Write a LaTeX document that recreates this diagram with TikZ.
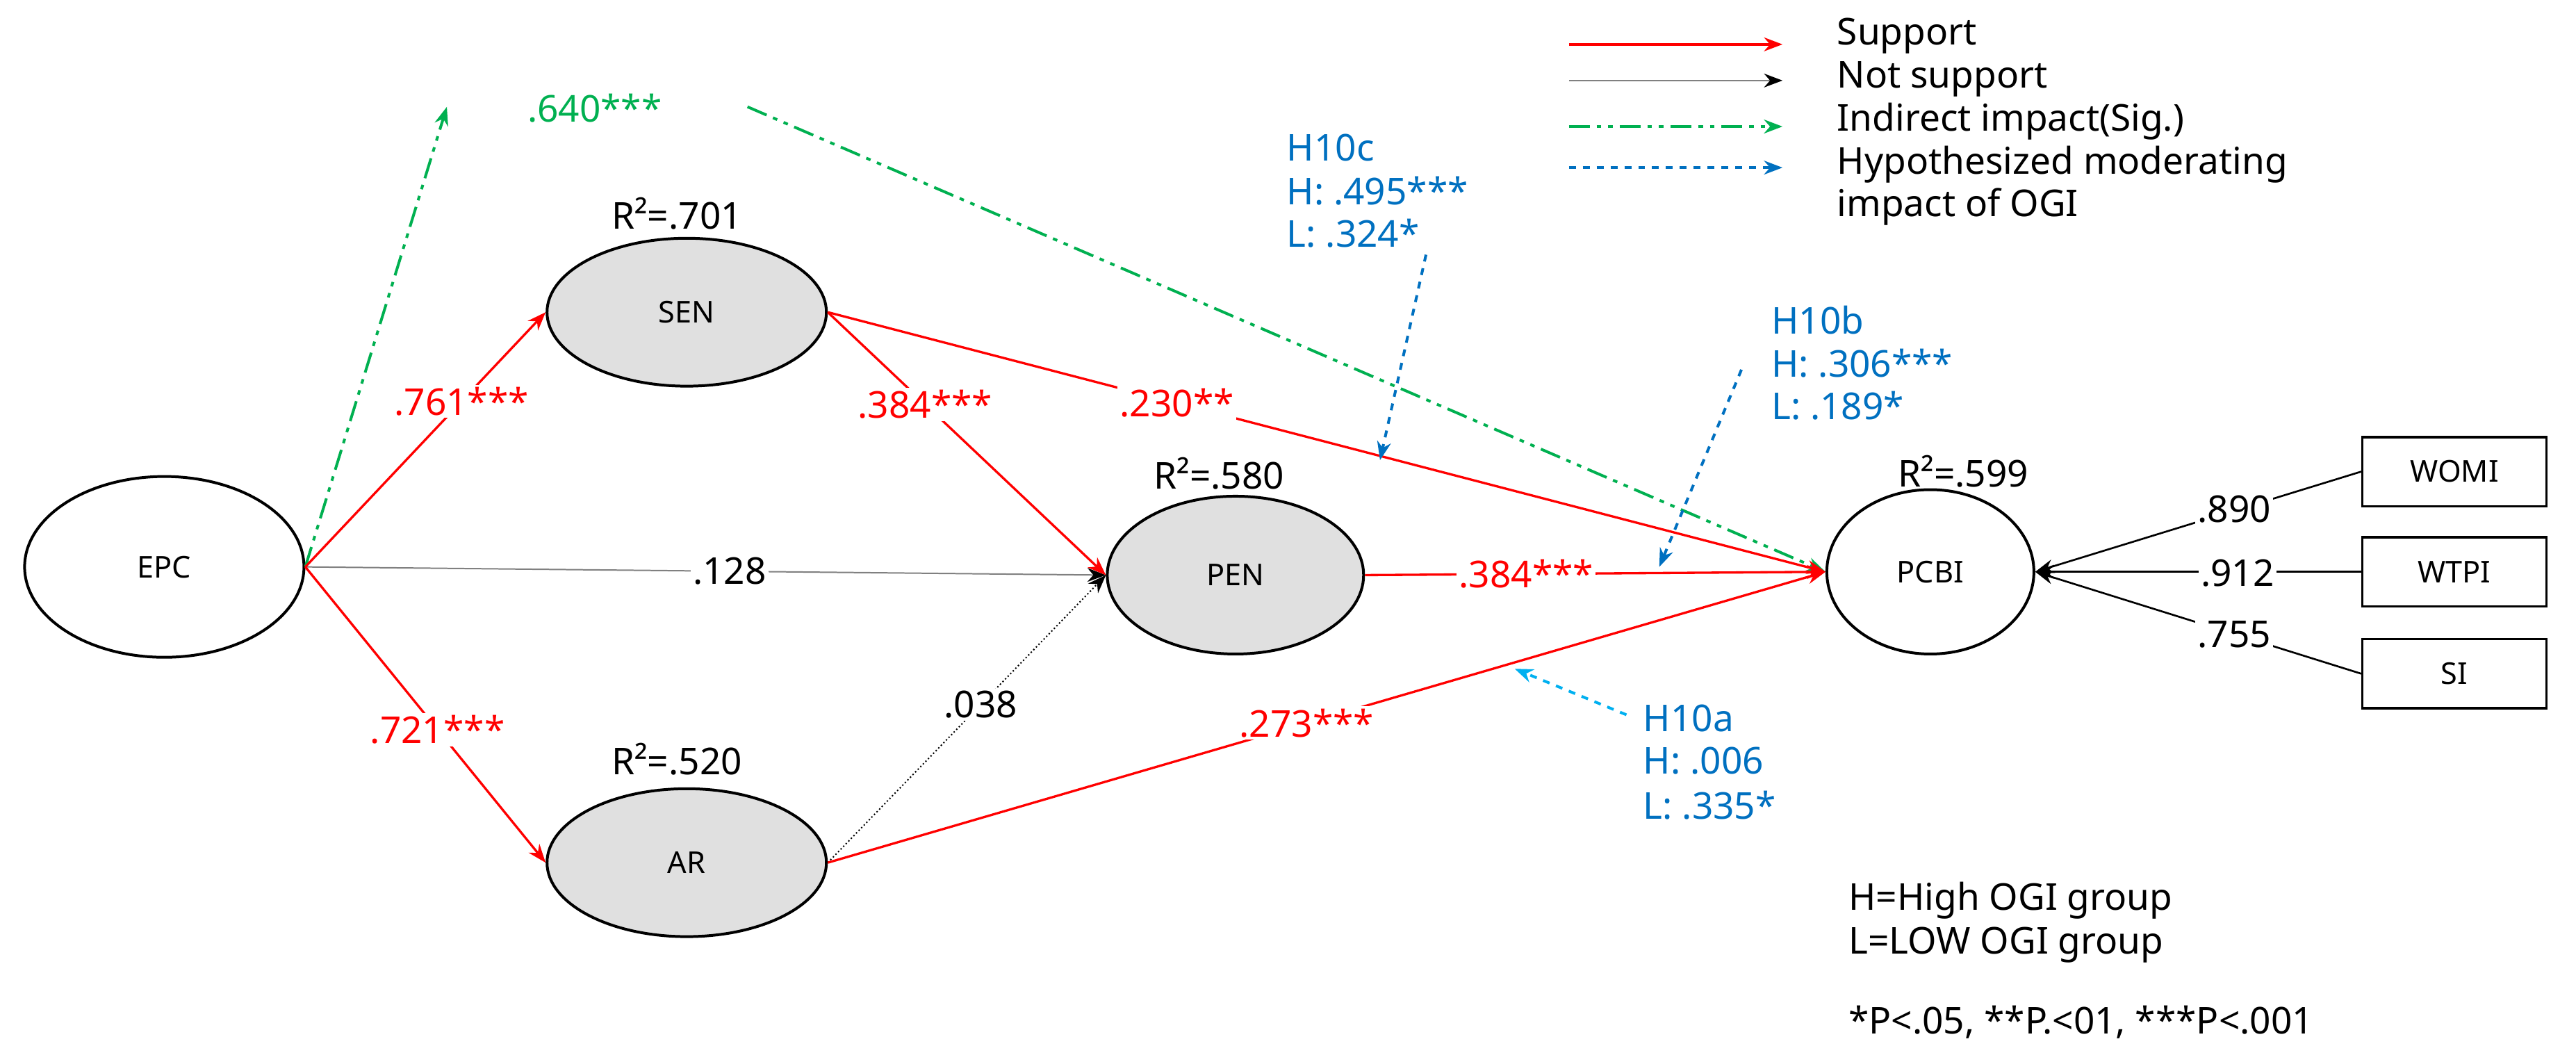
\documentclass[tikz,border=0pt]{standalone}
\usepackage{fontspec}
\setmainfont{Noto Sans}
\usetikzlibrary{arrows.meta,shapes.geometric}
\definecolor{rd}{RGB}{255,0,0}
\definecolor{gr}{RGB}{0,176,80}
\definecolor{bl}{RGB}{0,112,192}
\definecolor{lb}{RGB}{0,176,240}
\begin{document}
\begin{tikzpicture}[x=0.025cm,y=-0.025cm,
  every node/.style={font=\fontsize{16}{19}\selectfont},
  lat/.style={ellipse,draw,line width=1.2pt,inner sep=0pt,font=\fontsize{13}{16}\selectfont},
  box/.style={draw,line width=1pt,minimum width=2.8cm,minimum height=1.05cm,font=\fontsize{13}{16}\selectfont},
  sup/.style={rd,line width=1pt,-{Stealth[length=8pt]}},
  nsup/.style={gray,line width=0.6pt,-{Stealth[length=8pt,black]}},
  ind/.style={gr,line width=1.2pt,dash pattern=on 9pt off 3pt on 2pt off 3pt on 2pt off 3pt,-{Stealth[length=8pt]}},
  mod/.style={bl,line width=1.2pt,dashed,-{Stealth[length=8pt]}},
  lbl/.style={fill=white,inner sep=1pt},
  txt/.style={anchor=west,inner sep=0pt}]
\useasboundingbox (0,0) rectangle (1568,646);
\node[lat,minimum width=4.25cm,minimum height=2.75cm] (epc) at (100,345) {EPC};
\node[lat,fill=black!12,minimum width=4.25cm,minimum height=2.25cm] (sen) at (418,190) {SEN};
\node[lat,fill=black!12,minimum width=3.9cm,minimum height=2.4cm] (pen) at (752,350) {PEN};
\node[lat,fill=black!12,minimum width=4.25cm,minimum height=2.25cm] (ar) at (418,525) {AR};
\node[lat,minimum width=3.15cm,minimum height=2.5cm] (pcbi) at (1175,348) {PCBI};
\node at (412,130) {R²=.701};
\node at (742,288) {R²=.580};
\node at (412,462) {R²=.520};
\node at (1195,287) {R²=.599};
\node[box] (womi) at (1494,287) {WOMI};
\node[box] (wtpi) at (1494,348) {WTPI};
\node[box] (si) at (1494,410) {SI};
\foreach \b in {womi,wtpi,si}{
  \draw[line width=0.8pt,-{Stealth[length=8pt]}] (\b.west) -- (pcbi.east);}
\node[lbl] at (1360,310) {.890};
\node[lbl] at (1362,349) {.912};
\node[lbl] at (1360,386) {.755};
% paths
\coordinate (g1) at (272,65);
\coordinate (g2) at (455,65);
\draw[ind] (epc.east) -- (g1);
\draw[ind] (g2) -- (pcbi.west);
\node[text=gr] at (362,66) {.640***};
\draw[nsup] (epc.east) -- (pen.west) node[pos=0.53,lbl,text=black] {.128};
\draw[sup] (epc.east) -- (sen.west) node[pos=0.65,lbl] {.761***};
\draw[sup] (epc.east) -- (ar.west) node[pos=0.55,lbl] {.721***};
\draw[sup] (sen.east) -- (pen.west) node[pos=0.35,lbl] {.384***};
\draw[black,line width=0.6pt,densely dotted,-{Stealth[length=8pt]}] (ar.east) -- (pen.west) node[pos=0.55,lbl] {.038};
\draw[sup] (sen.east) -- (pcbi.west) node[pos=0.35,lbl] {.230**};
\draw[sup] (pen.east) -- (pcbi.west) node[pos=0.35,lbl] {.384***};
\draw[sup] (ar.east) -- (pcbi.west) node[pos=0.48,lbl] {.273***};
% moderation
\coordinate (c1) at (868,155); \coordinate (c2) at (840,280);
\draw[mod] (c1) -- (c2);
\coordinate (b1) at (1060,225); \coordinate (b2) at (1010,345);
\draw[mod] (b1) -- (b2);
\coordinate (a1) at (990,435); \coordinate (a2) at (922,407);
\draw[mod,lb] (a1) -- (a2);
\node[txt,text=bl] at (783,90) {H10c};
\node[txt,text=bl] at (783,116) {H: .495***};
\node[txt,text=bl] at (783,142) {L: .324*};
\node[txt,text=bl] at (1078,195) {H10b};
\node[txt,text=bl] at (1078,221) {H: .306***};
\node[txt,text=bl] at (1078,247) {L: .189*};
\node[txt,text=bl] at (1000,437) {H10a};
\node[txt,text=bl] at (1000,463) {H: .006};
\node[txt,text=bl] at (1000,490) {L: .335*};
% legend
\coordinate (l1a) at (955,27); \coordinate (l1b) at (1085,27);
\coordinate (l2a) at (955,49); \coordinate (l2b) at (1085,49);
\coordinate (l3a) at (955,77); \coordinate (l3b) at (1085,77);
\coordinate (l4a) at (955,102); \coordinate (l4b) at (1085,102);
\draw[sup] (l1a) -- (l1b);
\draw[nsup] (l2a) -- (l2b);
\draw[ind] (l3a) -- (l3b);
\draw[mod] (l4a) -- (l4b);
\node[txt] at (1118,22) {Support};
\node[txt] at (1118,48) {Not support};
\node[txt] at (1118,74) {Indirect impact(Sig.)};
\node[txt] at (1118,100) {Hypothesized moderating};
\node[txt] at (1118,126) {impact of OGI};
\node[txt] at (1125,548) {H=High OGI group};
\node[txt] at (1125,575) {L=LOW OGI group};
\node[txt] at (1125,622) {*P<.05, **P.<01, ***P<.001};
\end{tikzpicture}
\end{document}
